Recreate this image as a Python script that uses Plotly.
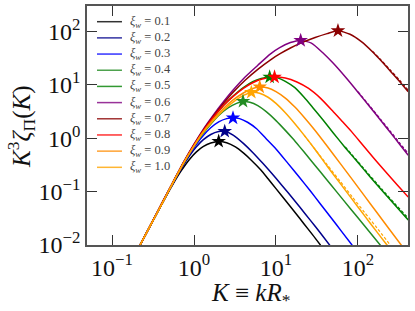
import plotly.graph_objects as go

# xi_w values and colours
xi_w = ["0.1", "0.2", "0.3", "0.4", "0.5", "0.6", "0.7", "0.8", "0.9", "1.0"]
colors = ["#000000", "#00008B", "#0000FF", "#228B22", "#008000",
          "#800080", "#8B0000", "#FF0000", "#FF8C00", "#FFA500"]

# K^3 zeta_Pi(K)
K_01 = [0.22, 0.3, 0.4, 0.55, 0.7, 0.89, 1.07, 1.29, 1.6, 2.0, 2.5, 3.2, 4.0, 5.0, 6.5, 8.0, 10, 13, 17, 22, 28, 35]
Z_01 = [0.010, 0.0246, 0.0566, 0.136, 0.248, 0.411, 0.557, 0.697, 0.818, 0.875, 0.828, 0.689, 0.532, 0.389, 0.257, 0.174, 0.114, 0.0692, 0.0412, 0.0248, 0.0155, 0.0099]

K_02 = [0.22, 0.3, 0.4, 0.55, 0.7, 0.89, 1.07, 1.29, 1.6, 2.0, 2.37, 3.0, 4.0, 5.2, 7.0, 10, 14, 19.5, 26, 35, 48]
Z_02 = [0.010, 0.0246, 0.0566, 0.140, 0.269, 0.479, 0.692, 0.933, 1.18, 1.34, 1.36, 1.15, 0.803, 0.542, 0.332, 0.178, 0.0962, 0.0515, 0.0296, 0.0166, 0.0088]

K_03 = [0.22, 0.3, 0.4, 0.55, 0.7, 0.89, 1.07, 1.29, 1.6, 2.0, 2.5, 3.0, 3.6, 4.5, 5.8, 7.5, 10, 14, 19.5, 26, 35, 47, 63, 85]
Z_03 = [0.010, 0.0246, 0.0566, 0.143, 0.280, 0.522, 0.776, 1.12, 1.58, 2.04, 2.34, 2.43, 2.34, 2.00, 1.51, 1.00, 0.631, 0.339, 0.182, 0.105, 0.0582, 0.0324, 0.0180, 0.0099]

K_04 = [0.22, 0.3, 0.4, 0.55, 0.7, 0.89, 1.07, 1.29, 1.55, 2.0, 2.6, 3.3, 3.96, 4.8, 6.0, 7.6, 10, 13, 16, 19.5, 24, 30, 40, 55, 80, 120, 195]
Z_04 = [0.010, 0.0246, 0.0566, 0.144, 0.285, 0.537, 0.832, 1.23, 1.74, 2.69, 3.72, 4.52, 4.90, 4.73, 4.09, 3.16, 2.15, 1.41, 0.989, 0.692, 0.471, 0.310, 0.180, 0.0991, 0.0490, 0.0229, 0.0092]

K_05 = [0.22, 0.3, 0.4, 0.55, 0.77, 1.0, 1.28, 1.7, 2.3, 3.0, 4.0, 5.2, 6.6, 8.4, 10.5, 13, 17, 22, 28, 37.5, 50, 70, 100, 140, 200, 280, 410]
Z_05 = [0.010, 0.0246, 0.0566, 0.144, 0.372, 0.733, 1.32, 2.40, 4.17, 6.17, 8.91, 11.5, 13.2, 14.1, 13.6, 11.7, 8.91, 5.89, 3.80, 2.21, 1.26, 0.668, 0.351, 0.191, 0.102, 0.0569, 0.0295]

K_06 = [0.22, 0.3, 0.4, 0.55, 0.77, 1.0, 1.28, 1.7, 2.3, 3.0, 4.2, 6.0, 8.5, 11.1, 15, 20, 27, 37.5, 50, 72, 100, 140, 193, 250, 320, 410]
Z_06 = [0.010, 0.0249, 0.0582, 0.148, 0.389, 0.776, 1.43, 2.66, 4.90, 8.04, 14.1, 23.4, 38.0, 50.1, 62.4, 68.4, 61.0, 39.8, 25.5, 13.5, 7.33, 3.86, 2.09, 1.27, 0.783, 0.483]

K_07 = [0.22, 0.3, 0.4, 0.55, 0.77, 1.0, 1.28, 1.7, 2.3, 3.0, 4.2, 6.0, 8.5, 11.1, 15, 20, 30, 42, 57, 80, 110, 150, 183, 250, 320, 410]
Z_07 = [0.010, 0.0249, 0.0582, 0.148, 0.385, 0.759, 1.38, 2.54, 4.57, 7.33, 12.3, 19.7, 29.4, 38.2, 49.3, 60.8, 77.6, 91.8, 104, 89.3, 65.0, 42.1, 30.6, 18.0, 11.7, 7.50]

K_08 = [0.22, 0.3, 0.4, 0.55, 0.77, 1.0, 1.28, 1.7, 2.3, 3.0, 4.0, 5.2, 6.8, 9.6, 13, 18, 25, 35, 50, 62, 83, 115, 160, 220, 300, 410]
Z_08 = [0.010, 0.0246, 0.0566, 0.144, 0.376, 0.741, 1.33, 2.43, 4.17, 6.10, 8.61, 11.0, 12.9, 14.1, 13.5, 11.4, 8.61, 5.62, 3.16, 2.21, 1.35, 0.741, 0.407, 0.232, 0.135, 0.0794]

K_09 = [0.22, 0.3, 0.4, 0.55, 0.77, 1.0, 1.28, 1.7, 2.3, 3.0, 4.0, 5.0, 6.33, 8.0, 10, 13, 17, 22, 30, 42, 60, 85, 120, 170, 240, 340]
Z_09 = [0.010, 0.0246, 0.0566, 0.144, 0.372, 0.724, 1.29, 2.24, 3.67, 5.25, 7.08, 8.41, 9.18, 8.81, 7.50, 5.69, 3.85, 2.48, 1.40, 0.716, 0.347, 0.170, 0.0832, 0.0407, 0.0200, 0.0098]

K_10 = [0.22, 0.3, 0.4, 0.55, 0.77, 1.0, 1.28, 1.7, 2.3, 3.0, 4.0, 5.0, 6.3, 8.0, 10, 13, 17, 22, 30, 42, 60, 85, 120, 170, 215, 240]
Z_10 = [0.010, 0.0246, 0.0566, 0.144, 0.372, 0.716, 1.26, 2.11, 3.39, 4.79, 6.38, 7.26, 7.00, 5.89, 4.52, 3.02, 1.88, 1.15, 0.617, 0.302, 0.146, 0.0716, 0.0355, 0.0176, 0.011, 0.0089]

# dashed tails (only visible where they separate from the solid curves)
Kd_05 = [70, 100, 140, 200, 280, 410]
Zd_05 = [0.69, 0.365, 0.200, 0.107, 0.060, 0.032]
Kd_06 = [100, 140, 193, 250, 320, 410]
Zd_06 = [7.5, 4.0, 2.18, 1.34, 0.83, 0.52]
Kd_07 = [150, 183, 250, 320, 410]
Zd_07 = [43.0, 31.5, 18.8, 12.4, 8.0]
Kd_10 = [22, 30, 42, 60, 85, 120, 170, 250]
Zd_10 = [1.15, 0.62, 0.32, 0.16, 0.080, 0.041, 0.021, 0.0098]

# peak positions (stars)
K_peak = [2.0, 2.37, 2.99, 3.96, 8.37, 20.0, 57.0, 9.6, 6.33, 5.0]
Z_peak = [0.88, 1.35, 2.41, 4.93, 14.1, 68.4, 104, 14.1, 9.18, 7.27]

K_all = [K_01, K_02, K_03, K_04, K_05, K_06, K_07, K_08, K_09, K_10]
Z_all = [Z_01, Z_02, Z_03, Z_04, Z_05, Z_06, Z_07, Z_08, Z_09, Z_10]
dashed = {4: (Kd_05, Zd_05), 5: (Kd_06, Zd_06), 6: (Kd_07, Zd_07), 9: (Kd_10, Zd_10)}

serif = "Liberation Serif, DejaVu Serif, serif"

fig = go.Figure()
for i, (k, z) in enumerate(zip(K_all, Z_all)):
    fig.add_trace(go.Scatter(
        x=k, y=z, mode="lines", showlegend=False, name="ξw = " + xi_w[i],
        line=dict(color=colors[i], width=1.5, shape="spline", smoothing=0.6)))
for i, (k, z) in dashed.items():
    fig.add_trace(go.Scatter(
        x=k, y=z, mode="lines", showlegend=False,
        line=dict(color=colors[i], width=1.2, dash="3px,2px", shape="spline", smoothing=0.6)))
for i in range(len(xi_w)):
    fig.add_trace(go.Scatter(
        x=[K_peak[i]], y=[Z_peak[i]], mode="markers", showlegend=False,
        marker=dict(symbol="star", size=11, color=colors[i])))

# legend drawn by hand so the rows can sit as tightly as in the original
x0, x1 = 87.0, 408.3
px_w = x1 - x0
y_top, y_bot = 6.0, 245.0
px_h = y_bot - y_top
for i, lab in enumerate(xi_w):
    py = 21.7 + 16.18 * i
    yp = (y_bot - py) / px_h
    fig.add_shape(type="line", xref="paper", yref="paper",
                  x0=(97 - x0) / px_w, x1=(122 - x0) / px_w, y0=yp, y1=yp,
                  line=dict(color=colors[i], width=1.5), opacity=0.8)
    fig.add_annotation(xref="paper", yref="paper", x=(128 - x0) / px_w, y=yp,
                       xanchor="left", yanchor="middle", showarrow=False,
                       text="<i>ξ</i><sub><i>w</i></sub> = " + lab,
                       font=dict(family=serif, size=12.5, color="#444444"))

# axis titles
fig.add_annotation(xref="paper", yref="paper", x=(251 - x0) / px_w, y=(y_bot - 294) / px_h,
                   xanchor="center", yanchor="middle", showarrow=False,
                   text="<i>K</i> ≡ <i>kR</i><sub>*</sub>", font=dict(family=serif, size=25, color="#111111"))
fig.add_annotation(xref="paper", yref="paper", x=(21 - x0) / px_w, y=(y_bot - 127) / px_h,
                   xanchor="center", yanchor="middle", showarrow=False, textangle=-90,
                   text="<i>K</i><sup>3</sup><i>ζ</i><sub>Π</sub>(<i>K</i>)",
                   font=dict(family=serif, size=25, color="#111111"))

axis_common = dict(
    type="log", showgrid=False, zeroline=False, automargin=False,
    showline=True, linecolor="#555555", linewidth=1.5, mirror="ticks",
    ticks="inside", ticklen=10, tickwidth=1.3, tickcolor="#333333",
    tickfont=dict(family=serif, size=24, color="#111111"),
)

fig.update_layout(
    width=415, height=311,
    margin=dict(l=87, r=7, t=6, b=66),
    paper_bgcolor="white", plot_bgcolor="white",
    font=dict(family=serif, color="#111111"),
    showlegend=False,
    xaxis=dict(axis_common, range=[-1.305, 2.61],
               tickvals=[0.1, 1, 10, 100],
               ticktext=["10<sup>−1</sup>", "10<sup>0</sup>", "10<sup>1</sup>", "10<sup>2</sup>"]),
    yaxis=dict(axis_common, range=[-2, 2.481],
               tickvals=[0.01, 0.1, 1, 10, 100],
               ticktext=["10<sup>−2</sup>", "10<sup>−1</sup>", "10<sup>0</sup>", "10<sup>1</sup>", "10<sup>2</sup>"]),
)

# the page's default body margin would push the figure 8px off the corner
fig.write_html("out.html", config={"displayModeBar": False},
               post_script="document.body.style.margin='0';")
